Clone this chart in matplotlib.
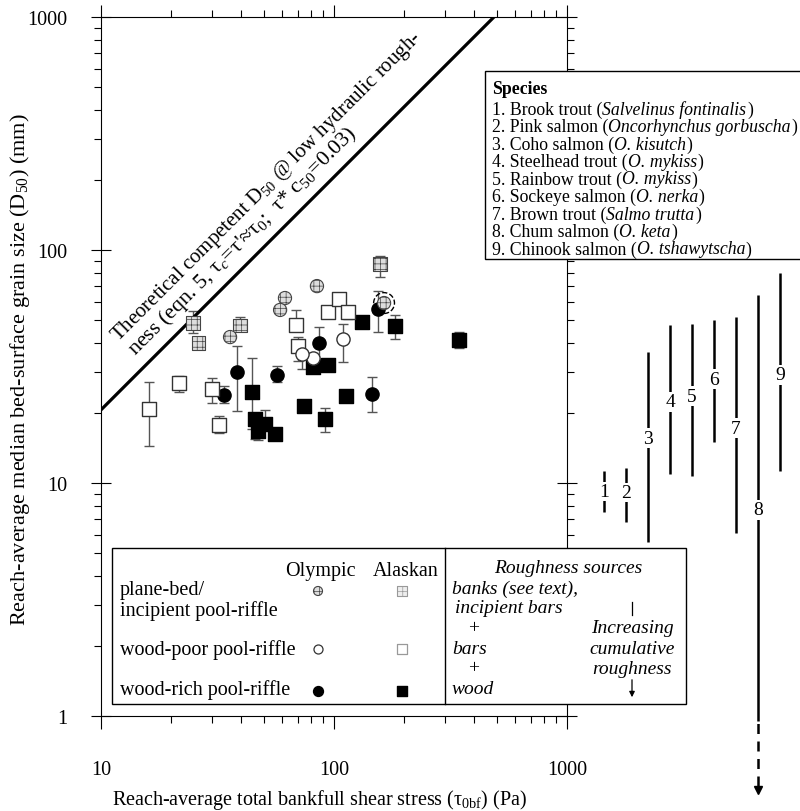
import matplotlib
matplotlib.use("Agg")
import matplotlib.pyplot as plt
import numpy as np
from matplotlib.patches import Rectangle

plt.rcParams['font.family'] = ['Liberation Serif', 'DejaVu Serif']
plt.rcParams['mathtext.fontset'] = 'custom'
plt.rcParams['mathtext.rm'] = 'Liberation Serif'
plt.rcParams['mathtext.it'] = 'Liberation Serif:italic'
plt.rcParams['mathtext.bf'] = 'Liberation Serif:bold'
plt.rcParams['hatch.linewidth'] = 0.5

# --- datos (tau en Pa, D50 en mm) ---
# Olympic, plane-bed / incipient pool-riffle
oly_plane_tau = [84.5, 61.6, 58.7, 35.8, 164.0]
oly_plane_d50 = [70.0, 62.2, 55.3, 42.3, 59.2]

# Alaskan, plane-bed / incipient pool-riffle
ala_plane_tau = [24.8, 26.3, 39.5, 157.5]
ala_plane_d50 = [48.6, 39.9, 47.6, 87.1]
ala_plane_lo = [44.0, 39.9, 45.0, 76.6]
ala_plane_hi = [54.9, 39.9, 51.6, 94.2]

# Olympic, wood-poor pool-riffle
oly_poor_tau = [109.0, 81.3, 72.7]
oly_poor_d50 = [41.5, 34.4, 35.8]
oly_poor_lo = [33.1, 34.4, 30.9]
oly_poor_hi = [48.0, 34.4, 35.8]

# Alaskan, wood-poor pool-riffle
ala_poor_tau = [16.1, 21.6, 29.9, 32.1, 68.7, 70.0, 94.3, 105.0, 115.0]
ala_poor_d50 = [20.8, 26.9, 25.3, 17.7, 47.6, 38.7, 54.2, 61.6, 54.2]
ala_poor_lo = [14.4, 24.6, 22.0, 16.4, 47.6, 33.4, 52.0, 61.6, 50.5]
ala_poor_hi = [27.1, 28.8, 28.2, 19.4, 55.3, 42.3, 54.2, 61.6, 54.2]

# Olympic, wood-rich pool-riffle
oly_rich_tau = [38.3, 33.7, 56.9, 86.2, 145.6, 154.5]
oly_rich_d50 = [29.9, 23.9, 29.1, 39.9, 24.1, 55.8]
oly_rich_lo = [20.4, 22.0, 27.1, 34.0, 20.2, 44.5]
oly_rich_hi = [38.7, 26.1, 31.8, 46.7, 28.5, 66.7]

# Alaskan, wood-rich pool-riffle
ala_rich_tau = [44.5, 45.8, 50.6, 47.2, 55.8, 74.3, 81.3, 94.3, 91.5, 112.6, 131.9, 182.7, 344.0]
ala_rich_d50 = [24.6, 18.8, 17.9, 16.7, 16.2, 21.4, 31.5, 32.1, 18.8, 23.6, 49.1, 47.2, 41.0]
ala_rich_lo = [17.0, 15.5, 17.9, 15.3, 16.2, 21.4, 31.5, 32.1, 16.6, 23.6, 49.1, 41.5, 38.0]
ala_rich_hi = [34.4, 18.8, 20.6, 16.7, 16.2, 21.4, 31.5, 32.1, 21.0, 23.6, 49.1, 52.6, 44.5]

# linea teorica (eqn. 5)
theory_tau = [10.0, 486.0]
theory_d50 = [20.6, 1000.0]

# rangos de D50 por especie
species_common = ["1. Brook trout", "2. Pink salmon", "3. Coho salmon", "4. Steelhead trout",
                  "5. Rainbow trout", "6. Sockeye salmon", "7. Brown trout",
                  "8. Chum salmon", "9. Chinook salmon"]
species_latin = ["Salvelinus fontinalis", "Oncorhynchus gorbuscha", "O. kisutch",
                 "O. mykiss", "O. mykiss", "O. nerka", "Salmo trutta", "O. keta",
                 "O. tshawytscha"]
species_num = [1, 2, 3, 4, 5, 6, 7, 8, 9]
species_lo = [7.5, 6.8, 5.6, 10.9, 10.7, 15.0, 6.1, 0.95, 11.3]
species_hi = [11.3, 11.6, 36.5, 47.6, 48.0, 50.0, 51.5, 64.3, 80.0]
species_label_d50 = [9.2, 9.1, 15.6, 22.3, 23.6, 27.9, 17.2, 7.66, 29.1]
chum_dashed_lo = 0.5

W, H = 800, 812
fig = plt.figure(figsize=(W / 100, H / 100), dpi=100)

# ejes principales: 1 decada = 233 px
ax = fig.add_axes([101 / W, 1 - 717 / H, 466 / W, 699 / H])
ax.set_xscale('log')
ax.set_yscale('log')
ax.set_xlim(10, 1000)
ax.set_ylim(1, 1000)

def err(d, lo, hi):
    d = np.array(d)
    return [d - np.array(lo), np.array(hi) - d]

eb = dict(fmt='none', ecolor='#555555', elinewidth=1.0, capsize=3.5, capthick=1.0, zorder=2)
ax.errorbar(ala_rich_tau, ala_rich_d50, yerr=err(ala_rich_d50, ala_rich_lo, ala_rich_hi), **eb)
ax.errorbar(oly_rich_tau, oly_rich_d50, yerr=err(oly_rich_d50, oly_rich_lo, oly_rich_hi), **eb)
ax.errorbar(ala_poor_tau, ala_poor_d50, yerr=err(ala_poor_d50, ala_poor_lo, ala_poor_hi), **eb)
ax.errorbar(oly_poor_tau, oly_poor_d50, yerr=err(oly_poor_d50, oly_poor_lo, oly_poor_hi), **eb)
ax.errorbar(ala_plane_tau, ala_plane_d50, yerr=err(ala_plane_d50, ala_plane_lo, ala_plane_hi), **eb)

ms = 9.5 ** 2
ax.scatter(ala_rich_tau, ala_rich_d50, s=ms, marker='s', c='black', zorder=3)
ax.scatter(oly_rich_tau, oly_rich_d50, s=ms, marker='o', c='black', zorder=3)
ax.scatter(ala_poor_tau, ala_poor_d50, s=ms, marker='s', facecolors='white',
           edgecolors='#333333', linewidths=1.0, zorder=4)
ax.scatter(oly_poor_tau, oly_poor_d50, s=ms, marker='o', facecolors='white',
           edgecolors='#333333', linewidths=1.0, zorder=4)
ax.scatter(ala_plane_tau, ala_plane_d50, s=ms, marker='s', facecolors='#dddddd',
           edgecolors='#444444', linewidths=0.8, hatch='+++', zorder=5)
ax.scatter(oly_plane_tau, oly_plane_d50, s=ms, marker='o', facecolors='#dddddd',
           edgecolors='#444444', linewidths=0.8, hatch='+++', zorder=5)
# anillo discontinuo alrededor del ultimo punto Olympic plane-bed
ax.scatter(oly_plane_tau[-1:], oly_plane_d50[-1:], s=15 ** 2, marker='o', facecolors='none',
           edgecolors='black', linewidths=1.0, linestyles='--', zorder=6)

ax.plot(theory_tau, theory_d50, color='black', lw=2.3, zorder=3)
ax.text(11.8, 40.8, "Theoretical competent D$_{50}$ @ low hydraulic rough-",
        rotation=45, rotation_mode='anchor', ha='left', va='baseline', fontsize=15)
ax.text(14.0, 35.3, "ness (eqn. 5, τ$_c$=τ'≈τ$_0$;  τ* c$_{50}$=0.03)",
        rotation=45, rotation_mode='anchor', ha='left', va='baseline', fontsize=15.8)

for sp in ax.spines.values():
    sp.set_linewidth(0.8)
ax.tick_params(which='both', top=True, right=True, direction='out', width=0.8,
               labelsize=14.5)
ax.tick_params(which='major', length=9)
ax.tick_params(which='minor', length=5)
ax.tick_params(axis='y', which='major', direction='inout', length=14, pad=17)
ax.tick_params(axis='x', which='major', pad=23)
ax.xaxis.set_major_formatter(matplotlib.ticker.FuncFormatter(lambda v, p: f"{v:g}"))
ax.yaxis.set_major_formatter(matplotlib.ticker.FuncFormatter(lambda v, p: f"{v:g}"))
ax.xaxis.set_minor_formatter(matplotlib.ticker.NullFormatter())
ax.yaxis.set_minor_formatter(matplotlib.ticker.NullFormatter())

# rangos por especie a la derecha, misma escala vertical
ax2 = fig.add_axes([567 / W, 1 - 717 / H, 233 / W, 699 / H])
ax2.set_yscale('log')
ax2.set_ylim(1, 1000)
ax2.set_xlim(1 - 37 / 22, 1 + 196 / 22)
ax2.axis('off')
ax2.vlines(species_num, species_lo, species_hi, color='black', lw=1.8, clip_on=False)
ax2.vlines(species_num[7], chum_dashed_lo, species_lo[7], color='black', lw=1.8,
           linestyles=(0, (4, 3)), clip_on=False)
ax2.plot([species_num[7]], [chum_dashed_lo * 0.96], marker='v', color='black', ms=6,
         clip_on=False)
for n, yv in zip(species_num, species_label_d50):
    ax2.text(n, yv, str(n), ha='center', va='center', fontsize=14,
             bbox=dict(fc='white', ec='none', pad=1.0), clip_on=False)

# capa superior en pixeles para cajas y leyenda
ov = fig.add_axes([0, 0, 1, 1])
ov.set_xlim(0, W)
ov.set_ylim(H, 0)
ov.axis('off')
ov.set_zorder(10)

# caja de especies
ov.add_patch(Rectangle((485, 72), 400, 188, fc='white', ec='black', lw=1.0))
ov.text(492, 90, "Species", fontsize=12.8, fontweight='bold', va='center')
renderer = fig.canvas.get_renderer()
for i, (com, lat) in enumerate(zip(species_common, species_latin)):
    yy = 110 + 17.5 * i
    t1 = ov.text(492, yy, com + " (", fontsize=12.8, va='center')
    x1 = ov.transData.inverted().transform(t1.get_window_extent(renderer))[1, 0]
    t2 = ov.text(x1, yy, lat, fontsize=12.8, style='italic', va='center')
    x2 = ov.transData.inverted().transform(t2.get_window_extent(renderer))[1, 0]
    ov.text(x2 + 0.5, yy, ")", fontsize=12.8, va='center')

# caja de leyenda y fuentes de rugosidad
ov.add_patch(Rectangle((112, 549), 574, 156, fc='white', ec='black', lw=1.0))
ov.plot([445, 445], [549, 705], color='black', lw=1.0)

fs = 14.5
ov.text(320, 572, "Olympic", fontsize=fs, ha='center', va='center')
ov.text(406, 572, "Alaskan", fontsize=fs, ha='center', va='center')
ov.text(120, 591, "plane-bed/", fontsize=fs, va='center')
ov.text(120, 611, "incipient pool-riffle", fontsize=fs, va='center')
ov.text(120, 650, "wood-poor pool-riffle", fontsize=fs, va='center')
ov.text(120, 690, "wood-rich pool-riffle", fontsize=fs, va='center')

lm = 6.5 ** 2
ov.scatter([318], [592], s=lm, marker='o', facecolors='#dddddd', edgecolors='#444444',
           linewidths=0.8, hatch='+++')
ov.scatter([402], [592], s=lm, marker='s', facecolors='#eeeeee', edgecolors='#999999',
           linewidths=0.8, hatch='+++')
ov.scatter([318], [650], s=lm, marker='o', facecolors='white', edgecolors='#333333',
           linewidths=0.9)
ov.scatter([402], [650], s=lm, marker='s', facecolors='white', edgecolors='#999999',
           linewidths=0.9)
ov.scatter([318], [692], s=lm * 1.2, marker='o', c='black')
ov.scatter([402], [692], s=lm * 1.2, marker='s', c='black')

ov.text(568, 569, "Roughness sources", fontsize=14, style='italic', ha='center', va='center')
ov.text(452, 589, "banks (see text),", fontsize=14, style='italic', va='center')
ov.text(455, 609, "incipient bars", fontsize=14, style='italic', va='center')
ov.text(474, 629, "+", fontsize=14, ha='center', va='center')
ov.text(452, 650, "bars", fontsize=14, style='italic', va='center')
ov.text(474, 669, "+", fontsize=14, ha='center', va='center')
ov.text(452, 690, "wood", fontsize=14, style='italic', va='center')
ov.plot([632, 632], [603, 616], color='black', lw=0.9)
ov.text(632, 629, "Increasing", fontsize=14, style='italic', ha='center', va='center')
ov.text(632, 650, "cumulative", fontsize=14, style='italic', ha='center', va='center')
ov.text(632, 670, "roughness", fontsize=14, style='italic', ha='center', va='center')
ov.annotate("", xy=(632, 701), xytext=(632, 678),
            arrowprops=dict(arrowstyle='-|>', color='black', lw=0.9, mutation_scale=8))

# titulos de ejes
ov.text(320, 800, "Reach-average total bankfull shear stress (τ$_\\mathrm{0bf}$) (Pa)",
        fontsize=14.5, ha='center', va='center')
ov.text(20, 370, "Reach-average median bed-surface grain size (D$_{50}$) (mm)",
        fontsize=16, rotation=90, ha='center', va='center')

fig.savefig("out.png", dpi=100)
